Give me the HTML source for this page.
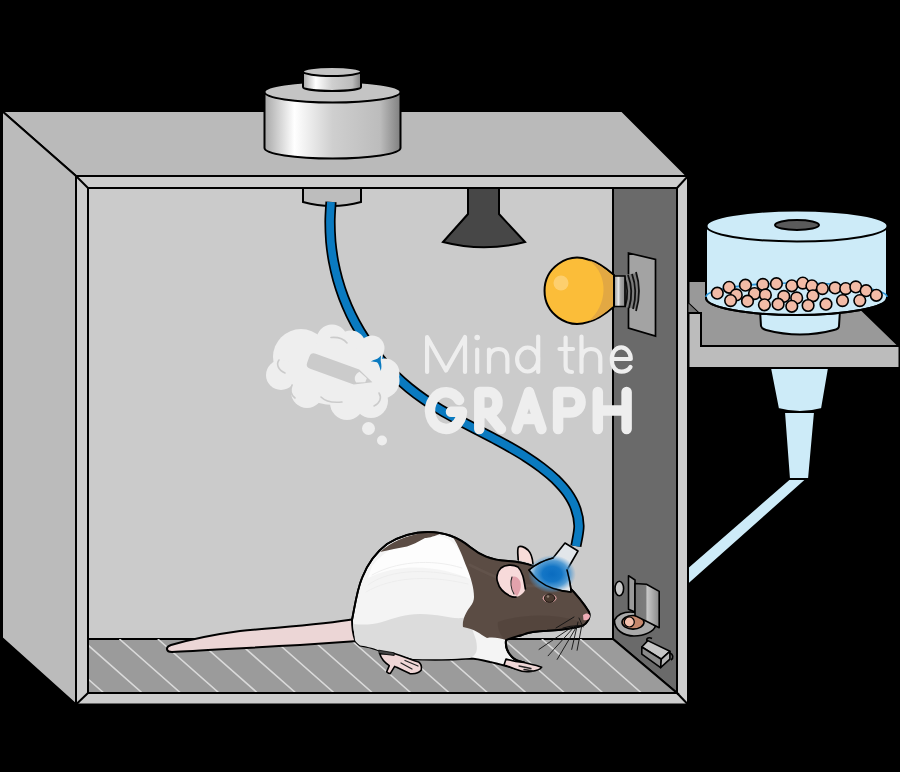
<!DOCTYPE html>
<html><head><meta charset="utf-8">
<style>
html,body{margin:0;padding:0;background:#000;width:900px;height:772px;overflow:hidden}
svg{display:block}
</style></head><body>
<svg width="900" height="772" viewBox="0 0 900 772">
<defs>
<linearGradient id="cyl" x1="0" x2="1" y1="0" y2="0">
<stop offset="0" stop-color="#a8a8a8"/>
<stop offset="0.22" stop-color="#ffffff"/>
<stop offset="0.5" stop-color="#cfcfcf"/>
<stop offset="0.85" stop-color="#bcbcbc"/>
<stop offset="1" stop-color="#808080"/>
</linearGradient>
<linearGradient id="base" x1="0" x2="1" y1="0" y2="0">
<stop offset="0" stop-color="#8c8c8c"/>
<stop offset="0.4" stop-color="#e6e6e6"/>
<stop offset="0.6" stop-color="#a8a8a8"/>
<stop offset="1" stop-color="#8a8a8a"/>
</linearGradient>
<clipPath id="floorclip"><polygon points="88,639 613,639 677,693 88,693"/></clipPath>
<radialGradient id="glow" cx="0.5" cy="0.5" r="0.5">
<stop offset="0" stop-color="#0a6cc0"/>
<stop offset="0.4" stop-color="#1476c6"/>
<stop offset="0.7" stop-color="#3a8fd0" stop-opacity="0.85"/>
<stop offset="1" stop-color="#5aa0d8" stop-opacity="0"/>
</radialGradient>
<linearGradient id="lev" x1="635" x2="659" y1="0" y2="0" gradientUnits="userSpaceOnUse">
<stop offset="0" stop-color="#767676"/><stop offset="0.45" stop-color="#7c7c7c"/><stop offset="0.5" stop-color="#c8c8c8"/><stop offset="1" stop-color="#8a8a8a"/>
</linearGradient>
</defs>
<g stroke="#000" stroke-width="2" stroke-linejoin="miter">
<!-- top face -->
<polygon points="2,111 622,111 687,176 76,176" fill="#bababa"/>
<!-- left face -->
<polygon points="2,111 76,176 76,704.5 2,638" fill="#bbbbbb"/>
<!-- front frame -->
<rect x="76" y="176" width="612" height="528.5" fill="#cdcdcd"/>
<!-- back wall -->
<rect x="88" y="188" width="589" height="505" fill="#cbcbcb"/>
<!-- right wall -->
<polygon points="613,188 677,188 677,693 613,639" fill="#6a6a6a"/>
<!-- floor -->
<polygon points="88,639 613,639 677,693 88,693" fill="#9b9b9b"/>
</g>
<g clip-path="url(#floorclip)" stroke="#dadada" stroke-width="1.6">
<path d="M4.2,639L65.5,693M42.6,639L103.9,693M81.0,639L142.3,693M119.4,639L180.7,693M157.8,639L219.1,693M196.2,639L257.5,693M234.6,639L295.9,693M273.0,639L334.3,693M311.4,639L372.7,693M349.8,639L411.1,693M388.2,639L449.5,693M426.6,639L487.9,693M465.0,639L526.3,693M503.4,639L564.7,693M541.8,639L603.1,693M580.2,639L641.5,693M618.6,639L679.9,693M657.0,639L718.3,693M695.4,639L756.7,693M733.8,639L795.1,693"/>
</g>
<g stroke="#000" stroke-width="2" fill="none">
<line x1="76" y1="176" x2="88" y2="188"/>
<line x1="688" y1="176" x2="677" y2="188"/>
<line x1="76" y1="704.5" x2="88" y2="693"/>
<line x1="688" y1="704.5" x2="677" y2="693"/>
<polygon points="88,188 677,188 677,693 88,693"/>
</g>

<!-- weight on top -->
<g stroke="#000" stroke-width="2">
<path d="M264.5,92 L264.5,148 A68,10.5 0 0 0 400.5,148 L400.5,92 Z" fill="url(#cyl)"/>
<ellipse cx="332.5" cy="92" rx="68" ry="10.5" fill="#c4c4c4"/>
<path d="M303,71.5 L303,87 A29,4 0 0 0 361,87 L361,71.5 Z" fill="url(#cyl)"/>
<ellipse cx="332" cy="71.5" rx="29" ry="4.5" fill="#c4c4c4"/>
</g>
<!-- ceiling connector -->
<path d="M303,188 L303,202 Q332,210 361,202 L361,188 Z" fill="#bdbdbd" stroke="#000" stroke-width="2"/>
<!-- ceiling lamp -->
<path d="M468,188 L468,214 L443,242 Q484,252.5 525,242 L499,214 L499,188 Z" fill="#474747" stroke="#000" stroke-width="2"/>
<!-- socket plate -->
<polygon points="628.5,253 655.5,259.5 655.5,336 628.5,328" fill="#a3a3a3" stroke="#000" stroke-width="1.7"/>
<!-- bulb -->
<path d="M624,275 L637,273 L639,291 L637,309 L624,307 Z" fill="#7c7c7c"/>
<g fill="none" stroke="#111" stroke-width="1.8">
<path d="M624,276 Q630,291 625,307 M628,275 Q634,291 629,308 M632,274 Q638,291 633,309 M636,272 Q642,291 636,311"/>
</g>
<path d="M614,276 L625,276 L625,306.5 L614,306.5 Z" fill="url(#base)" stroke="#000" stroke-width="1.6"/>
<path d="M614,275 C606,268 598,262 588,259.5 A33,33 0 1 0 588,322.1 C598,319.6 606,313.6 614,306.6 Z" fill="#fbbd39" stroke="#000" stroke-width="2"/>
<path d="M589,260.5 C600,268 604,280 603.5,291 C603,302 598,313 589,321 C598,318.6 605,313 613,306 L613,276 C605,269 598,263 589,260.5 Z" fill="#e2a843"/>
<circle cx="561" cy="283" r="7.5" fill="#fdcf6e"/>

<!-- feeder shelf -->
<g stroke="#000" stroke-width="2" stroke-linejoin="miter">
<polygon points="688.5,281 832,281 899,346 701,346 701,313 698.5,313 688.5,303.6" fill="#999999"/>
<polygon points="688.5,303.6 698.5,313 688.5,313" fill="#747474" stroke="none"/>
<polygon points="688.5,313 701,313 701,346 899.5,346 899.5,368 688.5,368" fill="#bcbcbc"/>
</g>
<!-- funnel -->
<g stroke="#000" stroke-width="2" fill="#cdebf8">
<polygon points="789,479 807,479 688,585 688,567"/>
<polygon points="784,412 815,412 809,479 789,479"/>
<path d="M770,368 L829,368 L822,409 Q800,415 778,409 Z"/>
</g>
<!-- feeder cylinder -->
<g stroke="#000" stroke-width="2">
<path d="M760,310 L761,326 Q762,329 766,330 Q800,339 834,330 Q839,329 839,326 L840,310 Z" fill="#cdebf8"/>
<path d="M706,226 L706,298 A90.5,17 0 0 0 887,298 L887,226 Z" fill="#cdebf8"/>
</g>
<path d="M706,297 A90.5,14 0 0 1 887,297" fill="none" stroke="#2a92d4" stroke-width="1.6"/>
<g stroke="#000" stroke-width="1.6" fill="#f2bba6"><circle cx="729.1" cy="287.3" r="5.8"/><circle cx="745.4" cy="285.2" r="5.8"/><circle cx="762.9" cy="284.4" r="5.8"/><circle cx="776.4" cy="283.7" r="5.8"/><circle cx="791.8" cy="285.8" r="5.8"/><circle cx="802.8" cy="283.1" r="5.8"/><circle cx="811.9" cy="285.8" r="5.8"/><circle cx="822.4" cy="288.6" r="5.8"/><circle cx="835.1" cy="287.9" r="5.8"/><circle cx="845.7" cy="288.6" r="5.8"/><circle cx="855.8" cy="286.9" r="5.8"/><circle cx="866.1" cy="290.7" r="5.8"/><circle cx="876.3" cy="295.3" r="5.8"/><circle cx="717.3" cy="293.2" r="5.8"/><circle cx="736.3" cy="294.9" r="5.8"/><circle cx="754.5" cy="293.6" r="5.8"/><circle cx="765.4" cy="294.9" r="5.8"/><circle cx="783.8" cy="296.4" r="5.8"/><circle cx="796.7" cy="297.9" r="5.8"/><circle cx="812.9" cy="295.8" r="5.8"/><circle cx="730.6" cy="300.6" r="5.8"/><circle cx="747.5" cy="301.2" r="5.8"/><circle cx="764.4" cy="304.8" r="5.8"/><circle cx="778.1" cy="304.2" r="5.8"/><circle cx="791.8" cy="306.3" r="5.8"/><circle cx="808.1" cy="305.5" r="5.8"/><circle cx="826.0" cy="304.2" r="5.8"/><circle cx="842.5" cy="300.6" r="5.8"/><circle cx="859.8" cy="300.6" r="5.8"/></g>
<path d="M706,298 A90.5,17 0 0 0 887,298" fill="none" stroke="#000" stroke-width="2"/>
<g stroke="#000" stroke-width="2">
<ellipse cx="797" cy="226" rx="90.5" ry="15.5" fill="#cdebf8"/>
<ellipse cx="797" cy="225" rx="22" ry="5" fill="#5a5a5a"/>
</g>
<!-- cable -->
<path d="M331.0,201.9 C330.8,205.2 330.0,215.4 330.0,222.0 C330.0,228.6 330.3,235.2 330.8,241.7 C331.4,248.2 332.3,254.6 333.4,260.9 C334.6,267.2 336.0,273.4 337.7,279.5 C339.4,285.6 341.4,291.6 343.6,297.5 C345.8,303.3 348.3,309.1 351.0,314.7 C353.7,320.3 356.7,325.8 359.9,331.2 C363.1,336.5 366.6,341.8 370.2,346.8 C373.9,351.9 377.8,356.8 381.9,361.5 C386.0,366.2 390.3,370.8 394.8,375.2 C399.4,379.6 404.1,383.8 409.0,387.9 C413.9,391.9 419.0,395.7 424.3,399.4 C429.5,403.0 435.0,406.5 440.5,409.8 C446.1,413.2 451.8,416.3 457.5,419.4 C463.3,422.6 469.1,425.6 474.9,428.6 C480.7,431.6 486.5,434.6 492.3,437.6 C498.0,440.7 503.8,443.7 509.3,446.9 C514.9,450.1 520.5,453.3 525.8,456.7 C531.1,460.1 536.3,463.6 541.2,467.4 C546.2,471.2 551.0,475.1 555.4,479.3 C559.7,483.6 563.9,488.0 567.3,492.8 C570.7,497.7 573.7,502.8 575.6,508.3 C577.6,513.8 578.9,519.6 579.0,526.0 C579.0,532.3 576.4,542.9 575.9,546.2" fill="none" stroke="#000" stroke-width="11.2"/>
<path d="M331.0,201.9 C330.8,205.2 330.0,215.4 330.0,222.0 C330.0,228.6 330.3,235.2 330.8,241.7 C331.4,248.2 332.3,254.6 333.4,260.9 C334.6,267.2 336.0,273.4 337.7,279.5 C339.4,285.6 341.4,291.6 343.6,297.5 C345.8,303.3 348.3,309.1 351.0,314.7 C353.7,320.3 356.7,325.8 359.9,331.2 C363.1,336.5 366.6,341.8 370.2,346.8 C373.9,351.9 377.8,356.8 381.9,361.5 C386.0,366.2 390.3,370.8 394.8,375.2 C399.4,379.6 404.1,383.8 409.0,387.9 C413.9,391.9 419.0,395.7 424.3,399.4 C429.5,403.0 435.0,406.5 440.5,409.8 C446.1,413.2 451.8,416.3 457.5,419.4 C463.3,422.6 469.1,425.6 474.9,428.6 C480.7,431.6 486.5,434.6 492.3,437.6 C498.0,440.7 503.8,443.7 509.3,446.9 C514.9,450.1 520.5,453.3 525.8,456.7 C531.1,460.1 536.3,463.6 541.2,467.4 C546.2,471.2 551.0,475.1 555.4,479.3 C559.7,483.6 563.9,488.0 567.3,492.8 C570.7,497.7 573.7,502.8 575.6,508.3 C577.6,513.8 578.9,519.6 579.0,526.0 C579.0,532.3 576.4,542.9 575.9,546.2" fill="none" stroke="#0a7ac0" stroke-width="7.8"/>


<!-- rat -->
<g id="rat" stroke-linejoin="round" stroke-linecap="round">
<!-- tail -->
<path d="M355,619 C320,625 280,627 240,631 C210,635 185,641 171,645 C165,647 166,652 172,652 C200,651 240,648 300,645 C330,643 345,642 358,641 Z" fill="#ecd6d6" stroke="#000" stroke-width="2"/>
<!-- body -->
<path d="M352,620 C355,605 357,590 362,578 C367,565 375,553 387,544 C400,536 412,532 428,532 C445,532 458,537 470,547 C480,555 490,560 508,561 C520,562 526,563 533,566 L568,586 C576,594 584,604 589,612 C591,618 587,623 583,625.5 C575,628 560,630 547,630.8 C538,631 530,631.5 522,635 C515,637 510,638 506,640 C505,647 508,653 512,657 C515,660 519,661.5 524,662.5 L522,670 C512,668 500,664 490,662 C482,660 476,658.5 470,658.5 C450,660 430,660 413,659.3 C405,657 398,655 394,653.6 L379,650.4 C373,648 364,646 360,645.6 C357,643 355,641 355,640 C353,634 352,628 352,620 Z" fill="#f4f4f4" stroke="#000" stroke-width="1.9"/>
<!-- lower body shading -->
<path d="M353,624 C362,625 372,625 382,622 C395,618 405,614 420,614 C440,614 450,619 462,618 L468,617 L476,640 C478,650 477,655 470,658 C450,659.5 430,659.5 413,659 C405,657 398,655 394,653.6 L379,650.4 C373,648 364,646 360,645.6 C357,643 355,641 355,640 Z" fill="#dcdcdc"/>
<!-- hood -->
<path d="M372,566 C385,550 402,540 428,536 C445,534 455,540 462,556 C466,566 470,574 472,580 C455,572 430,566 405,568 C392,569 380,572 368,578 Z" fill="#fdfdfd"/>
<g fill="none" stroke="#ececec" stroke-width="0.9">
<path d="M368,585 C385,572 420,566 466,578"/>
<path d="M366,592 C390,578 425,574 468,584"/>
<path d="M372,575 C395,562 430,558 462,568"/>
</g>
<path d="M380,552 C390,543 405,535 428,532 C432,532 436,533 440,534 C432,537 428,538 425,538 C418,542 412,545 407,546.5 C398,548 390,550 380,552 Z" fill="#5b4c44"/>
<path d="M452,536 C460,540 465,543 470,547 C480,555 490,560 508,561 C520,562 526,563 533,566 L568,586 C576,594 584,604 589,612 C591,618 587,623 583,625.5 C575,628 560,630 547,630.8 C538,631 530,631.5 522,635 C515,637 510,638 506,640 C500,638 493,637 487,638 C480,634 475,629 463,627 C462,620 466,612 470,607 C473,603 474,600 474,597 C474,588 471,578 467,568 C463,558 459,546 452,536 Z" fill="#5b4c44"/>
<path d="M498,622 C520,614 552,613 578,621 L584,625 C575,628 560,630 547,630.8 C538,631 530,631.5 522,635 C515,637 510,638 506,640 C500,636 497,628 498,622 Z" fill="#4a3c35" opacity="0.4"/>
<path d="M470,565 C490,575 520,590 545,585" fill="none" stroke="#6a5a52" stroke-width="3" opacity="0.5"/>
<!-- outline redraw top -->
<path d="M352,620 C355,605 357,590 362,578 C367,565 375,553 387,544 C400,536 412,532 428,532 C445,532 458,537 470,547 C480,555 490,560 508,561 C520,562 526,563 533,566 M568,586 C576,594 584,604 589,612 C591,618 587,623 583,625.5 C575,628 560,630 547,630.8 C538,631 530,631.5 522,635 C515,637 510,638 506,640 C505,647 508,653 512,657 C515,660 519,661.5 524,662.5" fill="none" stroke="#000" stroke-width="1.9"/>
<!-- hind foot -->
<path d="M379.6,653.6 C381,658 385,663 389.3,665.6 L386.7,671.8 C388,673 389.5,673.6 390.2,673.6 L394.7,666.4 C398,668 402,670 409.8,673.6 C414,674 419,673 421.3,670 C422,666 420,663 418.7,662 C412,660 405,657 394.2,653.6 Z" fill="#efd6d6" stroke="#000" stroke-width="1.6"/>
<path d="M401,663 L412,669 M405,660.5 L418,666" stroke="#222" stroke-width="1.3" fill="none"/>
<path d="M379,650.2 L394.2,652.8 L394.2,655.5 L379.6,653.6 Z" fill="#444" stroke="#000" stroke-width="0.8"/>
<!-- front foot -->
<path d="M506,659 C512,661 518,662 524,662.5 C530,664 536,665 541.7,667.2 C540,670 536,671 531,671.5 C526,672 522,672 518,670 C512,668 508,666 504,665 Z" fill="#efd6d6" stroke="#000" stroke-width="1.6"/>
<path d="M519,666 L531,668.5 M524,669.5 L533,671" stroke="#222" stroke-width="1.3" fill="none"/>
<!-- back ear -->
<path d="M518.2,560 C518,555 517,549 518.5,547 C520,545.5 524,546.5 528,550 C531,553 532.5,558 533,564" fill="#f8dcd8" stroke="#000" stroke-width="1.7"/>
<!-- big ear -->
<path d="M525.4,589 C524,580 523,572 518,567 C513,564 505,564.5 501,568 C497,572 496,578 497.6,582 C499,588 504,593 510,596 C514,598 519,597 522,594 C524,592 525,591 525.4,589 Z" fill="#f7dada"/><path d="M525.4,589 C524,580 523,572 518,567 C513,564 505,564.5 501,568 C497,572 496,578 497.6,582 C499,588 504,593 510,596 C512,597 514,597.5 516,597" fill="none" stroke="#000" stroke-width="1.7"/>
<path d="M511,578 C514,575 518,577 520,581 C522,586 520,592 517,596 C514,594 512,590 511,586 Z" fill="#e2a2ac"/><path d="M512,577 C510,582 511,589 514,594" fill="none" stroke="#222" stroke-width="1.1"/>
<!-- eye -->
<ellipse cx="549.6" cy="598.2" rx="7" ry="4.2" fill="#d8a0a0"/><ellipse cx="549.6" cy="598.2" rx="5.2" ry="4.2" fill="#4a3a30" stroke="#1a120e" stroke-width="0.9"/>
<circle cx="548" cy="596.5" r="1.3" fill="#8c7c70"/>
<!-- nose -->
<path d="M583,615 C586,612.5 589.5,613 590,616 C589.5,619.5 586.5,621 583.5,620 Z" fill="#efadb6"/>
<!-- whiskers -->
<path d="M563,628 C570,626 577,625.5 582,626" fill="none" stroke="#111" stroke-width="1.1"/>
<g fill="none" stroke="#111" stroke-width="0.9">
<path d="M574,617 L556,628 M572,627 L539,649.4 M575,626 L548.1,655.8 M577,626 L557.2,659.4 M578,622 L571.7,649.4 M581.5,627 L577.1,650.3 M579,618 L583,627"/>
</g>
<!-- device -->
<path d="M529,570 C537,563 545,560 553,558 L565,543 L578,551 L567,570 C569,578 571,585 571,592 C560,591 548,588 539,581 Z" fill="#e2e6ea" stroke="#000" stroke-width="1.6"/>
<ellipse cx="552" cy="574" rx="24" ry="19" fill="url(#glow)"/>
<path d="M529,570 C537,563 545,560 553,558 M567,570 C569,578 571,585 571,592 C560,591 548,588 539,581 C534,577 531,574 529,570" fill="none" stroke="#000" stroke-width="1.5"/>
</g>
<!-- wall items -->
<g stroke="#000" stroke-width="1.6" stroke-linejoin="round">
<ellipse cx="619.3" cy="588.5" rx="4.3" ry="7.3" fill="#c9c9c9"/>
<path d="M614.5,620 C614,630 624,636 634,636 C645,636 654,631 655.5,626 L650,622 C640,608 620,610 614.5,620 Z" fill="#a9a9a9"/>
<ellipse cx="633" cy="622.3" rx="11" ry="6.8" fill="#c5876c"/>
<circle cx="629.3" cy="622" r="5" fill="#f4c0ad" stroke-width="1.2"/>
<polygon points="628.5,575.7 635,580 635,612 628.5,609.2" fill="#9a9a9a"/>
<polygon points="635,583.5 646.4,584.3 659.2,591.4 659.2,627.8 646.4,621.3 635,615.6" fill="url(#lev)"/>
<polygon points="641.8,647 647.8,640.6 669.9,651.3 661.3,659.2" fill="#c6c6c6"/>
<polygon points="641.8,647 661.3,659.2 660.6,667.7 641.8,654.2" fill="#8a8a8a"/>
<polygon points="661.3,659.2 669.9,651.3 669.9,659.2 660.6,667.7" fill="#b4b4b4"/>
<path d="M647,641 C646,638 649,637 652,638.5" fill="none"/>
<path d="M670,653 C673,654 674,658 671,660" fill="none"/>
</g>
<!-- watermark -->
<g fill="#eeeeee">
<circle cx="301" cy="357" r="28"/>
<circle cx="332" cy="340" r="15.5"/>
<circle cx="351" cy="345" r="14.5"/>
<circle cx="368" cy="353" r="15"/>
<circle cx="372" cy="348" r="12.5"/>
<circle cx="382" cy="381" r="17.5"/>
<circle cx="385" cy="373" r="14.5"/>
<circle cx="371" cy="401" r="17"/>
<circle cx="347" cy="403" r="17"/>
<circle cx="307" cy="392" r="16"/>
<circle cx="281" cy="375" r="15"/>
<ellipse cx="335" cy="375" rx="45" ry="30"/>
<circle cx="368.5" cy="428.5" r="6.5"/>
<circle cx="382" cy="440.5" r="5"/>
</g>
<path d="M370.8,361.5 C374,359.5 377,359.5 379,357.5 L381,355.5 C381,358 380.4,360 380.9,362 C381.6,365 381.6,368 380.8,371 C379.6,367 378.6,363.5 377,362.3 C375,361.7 373,361.9 370.8,361.5 Z" fill="#0a7ac0"/>
<g fill="none" stroke="#cbcbcb" stroke-width="1.6" stroke-linecap="round">
<path d="M279,360 C276,364 278,370 285,373"/>
<path d="M331,337.5 C337,337 343,338 347,343"/>
<path d="M321,397 C325,401 333,403 342,402"/>
<path d="M379,393 C382,398 380,403 374,406"/>
<path d="M292,385 C290,390 291,395 295,398"/>
</g>
<path d="M315.7,353.8 L359.2,369.6 L372.4,382.3 L353.7,384.6 L310.2,368.8 Q305.5,367.1 307.2,362.4 L309.3,356.8 Q311,352.1 315.7,353.8 Z" fill="#cbcbcb"/>
<path d="M359.5,371.8 L366.8,378.2 L365.3,382.2 L356.2,382.6 C353.5,379 354.5,374.5 359.5,371.8 Z" fill="#eeeeee"/>
<g fill="none" stroke="#eeeeee" stroke-width="4.2" stroke-linecap="round" stroke-linejoin="round">
<path d="M427.1,372 L427.1,337 L446,370.5 L465,337 L465,372"/>
<path d="M477.2,349.5 L477.2,372"/>
<path d="M489,349.5 L489,372 M489,358.5 C489,352.5 493.5,349 498.5,349 C504,349 507.4,352.5 507.4,358.5 L507.4,372"/>
<path d="M538.2,336.5 L538.2,372"/>
<ellipse cx="527.6" cy="359.5" rx="10.5" ry="12"/>
<path d="M565.6,337.5 L565.6,366 C565.6,370 567.5,372 572,372 M559.5,349 L573,349"/>
<path d="M581.5,336.5 L581.5,372 M581.5,358.5 C581.5,352.5 586,349 591,349 C596.5,349 600.3,352.5 600.3,358.5 L600.3,372"/>
<path d="M611.8,359 L630.8,359 C630.8,352 626,347.3 621.3,347.3 C615.5,347.3 611.8,352.5 611.8,359.5 C611.8,366.5 615.5,371.7 621.5,371.7 C625.5,371.7 628.5,370 630.5,367"/>
</g>
<circle cx="477.2" cy="337.5" r="2.8" fill="#eeeeee"/>
<g fill="none" stroke="#eeeeee" stroke-width="10.5" stroke-linecap="round" stroke-linejoin="round">
<path d="M459.1,400 A16,18.3 0 1 0 462,411.7 L451,411.7"/>
<path d="M479.3,429 L479.3,392 L488,392 C494.5,392 497.5,397 497.5,402.5 C497.5,408 494.5,413 488,413 L479.3,413 M488,413 L501,429"/>
<path d="M516.5,429 L529,392 L541.5,429 M521,419 L537,419"/>
<path d="M558.1,429 L558.1,392 L570,392 C576.5,392 580.6,396.5 580.6,402.3 C580.6,408 576.5,412.5 570,412.5 L558.1,412.5"/>
<path d="M597.8,392 L597.8,429 M626.6,392 L626.6,429 M597.8,410.6 L626.6,410.6"/>
</g>
</svg>
</body></html>
